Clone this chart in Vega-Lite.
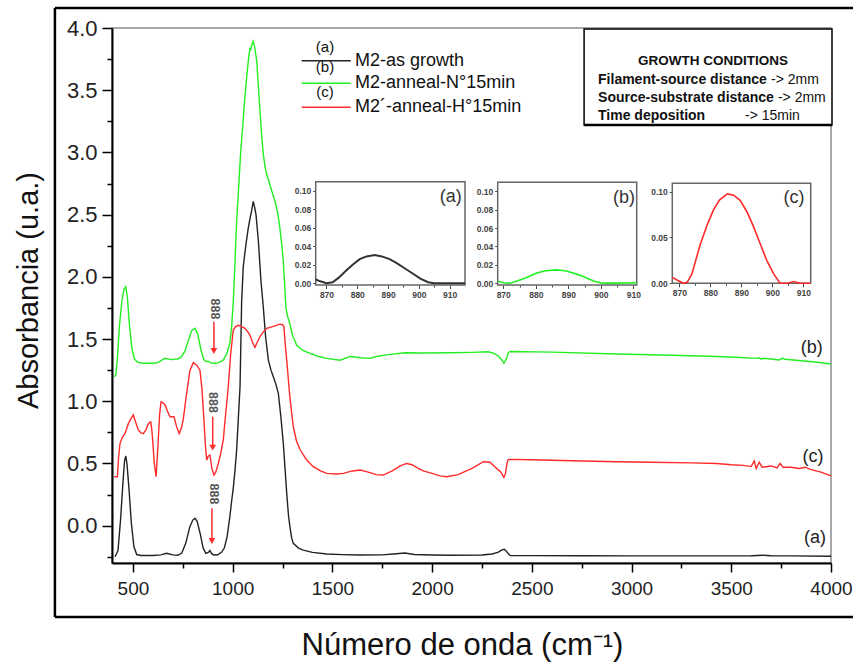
{
  "$schema": "https://vega.github.io/schema/vega-lite/v6.json",
  "width": 719,
  "height": 535,
  "autosize": {"type": "none"},
  "padding": {"left": 112, "top": 28, "right": 22, "bottom": 101},
  "background": "white",
  "config": {
    "view": {"stroke": "#8a8a8a", "strokeWidth": 1.5},
    "axis": {"grid": false},
    "font": "Liberation Sans",
    "text": {"font": "Liberation Sans"}
  },
  "datasets": {
    "spectra": [
      {"s":"a","wn":410,"abs":-0.25},{"s":"a","wn":425,"abs":-0.2},{"s":"a","wn":438,"abs":0.05},{"s":"a","wn":450,"abs":0.35},{"s":"a","wn":458,"abs":0.52},{"s":"a","wn":464,"abs":0.56},{"s":"a","wn":470,"abs":0.5},{"s":"a","wn":480,"abs":0.3},{"s":"a","wn":492,"abs":0.02},{"s":"a","wn":505,"abs":-0.17},{"s":"a","wn":519,"abs":-0.232},{"s":"a","wn":540,"abs":-0.24},{"s":"a","wn":600,"abs":-0.24},{"s":"a","wn":640,"abs":-0.235},{"s":"a","wn":669,"abs":-0.222},{"s":"a","wn":700,"abs":-0.235},{"s":"a","wn":725,"abs":-0.238},{"s":"a","wn":745,"abs":-0.22},{"s":"a","wn":765,"abs":-0.14},{"s":"a","wn":785,"abs":-0.01},{"s":"a","wn":800,"abs":0.045},{"s":"a","wn":811,"abs":0.059},{"s":"a","wn":822,"abs":0.035},{"s":"a","wn":838,"abs":-0.07},{"s":"a","wn":852,"abs":-0.18},{"s":"a","wn":865,"abs":-0.223},{"s":"a","wn":878,"abs":-0.215},{"s":"a","wn":886,"abs":-0.2},{"s":"a","wn":895,"abs":-0.225},{"s":"a","wn":905,"abs":-0.236},{"s":"a","wn":925,"abs":-0.234},{"s":"a","wn":945,"abs":-0.212},{"s":"a","wn":958,"abs":-0.18},{"s":"a","wn":972,"abs":-0.09},{"s":"a","wn":985,"abs":0.06},{"s":"a","wn":995,"abs":0.2},{"s":"a","wn":1003,"abs":0.3},{"s":"a","wn":1012,"abs":0.45},{"s":"a","wn":1020,"abs":0.61},{"s":"a","wn":1028,"abs":0.85},{"s":"a","wn":1037,"abs":1.12},{"s":"a","wn":1045,"abs":1.8},{"s":"a","wn":1053,"abs":2.08},{"s":"a","wn":1062,"abs":2.2},{"s":"a","wn":1070,"abs":2.3},{"s":"a","wn":1078,"abs":2.39},{"s":"a","wn":1087,"abs":2.47},{"s":"a","wn":1095,"abs":2.53},{"s":"a","wn":1103,"abs":2.607},{"s":"a","wn":1110,"abs":2.56},{"s":"a","wn":1117,"abs":2.5},{"s":"a","wn":1129,"abs":2.286},{"s":"a","wn":1142,"abs":1.965},{"s":"a","wn":1154,"abs":1.75},{"s":"a","wn":1165,"abs":1.52},{"s":"a","wn":1179,"abs":1.33},{"s":"a","wn":1192,"abs":1.25},{"s":"a","wn":1204,"abs":1.197},{"s":"a","wn":1216,"abs":1.14},{"s":"a","wn":1229,"abs":1.064},{"s":"a","wn":1242,"abs":0.87},{"s":"a","wn":1254,"abs":0.66},{"s":"a","wn":1263,"abs":0.45},{"s":"a","wn":1271,"abs":0.26},{"s":"a","wn":1280,"abs":0.08},{"s":"a","wn":1287,"abs":-0.008},{"s":"a","wn":1296,"abs":-0.1},{"s":"a","wn":1304,"abs":-0.142},{"s":"a","wn":1330,"abs":-0.18},{"s":"a","wn":1354,"abs":-0.196},{"s":"a","wn":1400,"abs":-0.215},{"s":"a","wn":1472,"abs":-0.228},{"s":"a","wn":1550,"abs":-0.233},{"s":"a","wn":1638,"abs":-0.236},{"s":"a","wn":1750,"abs":-0.235},{"s":"a","wn":1820,"abs":-0.226},{"s":"a","wn":1864,"abs":-0.22},{"s":"a","wn":1910,"abs":-0.232},{"s":"a","wn":2000,"abs":-0.236},{"s":"a","wn":2100,"abs":-0.238},{"s":"a","wn":2250,"abs":-0.236},{"s":"a","wn":2300,"abs":-0.228},{"s":"a","wn":2330,"abs":-0.215},{"s":"a","wn":2350,"abs":-0.195},{"s":"a","wn":2362,"abs":-0.19},{"s":"a","wn":2372,"abs":-0.205},{"s":"a","wn":2382,"abs":-0.225},{"s":"a","wn":2392,"abs":-0.24},{"s":"a","wn":2500,"abs":-0.241},{"s":"a","wn":2750,"abs":-0.242},{"s":"a","wn":3000,"abs":-0.243},{"s":"a","wn":3300,"abs":-0.243},{"s":"a","wn":3600,"abs":-0.242},{"s":"a","wn":3660,"abs":-0.238},{"s":"a","wn":3700,"abs":-0.242},{"s":"a","wn":3800,"abs":-0.243},{"s":"a","wn":4000,"abs":-0.246},

      {"s":"b","wn":406,"abs":1.197},{"s":"b","wn":414,"abs":1.21},{"s":"b","wn":422,"abs":1.35},{"s":"b","wn":432,"abs":1.6},{"s":"b","wn":444,"abs":1.8},{"s":"b","wn":455,"abs":1.9},{"s":"b","wn":464,"abs":1.92},{"s":"b","wn":472,"abs":1.84},{"s":"b","wn":482,"abs":1.62},{"s":"b","wn":495,"abs":1.42},{"s":"b","wn":508,"abs":1.34},{"s":"b","wn":522,"abs":1.315},{"s":"b","wn":550,"abs":1.305},{"s":"b","wn":600,"abs":1.305},{"s":"b","wn":625,"abs":1.31},{"s":"b","wn":645,"abs":1.33},{"s":"b","wn":661,"abs":1.345},{"s":"b","wn":690,"abs":1.335},{"s":"b","wn":720,"abs":1.34},{"s":"b","wn":740,"abs":1.35},{"s":"b","wn":760,"abs":1.4},{"s":"b","wn":778,"abs":1.49},{"s":"b","wn":795,"abs":1.57},{"s":"b","wn":811,"abs":1.586},{"s":"b","wn":825,"abs":1.54},{"s":"b","wn":840,"abs":1.42},{"s":"b","wn":855,"abs":1.335},{"s":"b","wn":868,"abs":1.318},{"s":"b","wn":878,"abs":1.322},{"s":"b","wn":886,"abs":1.312},{"s":"b","wn":900,"abs":1.305},{"s":"b","wn":915,"abs":1.305},{"s":"b","wn":935,"abs":1.315},{"s":"b","wn":953,"abs":1.33},{"s":"b","wn":970,"abs":1.38},{"s":"b","wn":985,"abs":1.46},{"s":"b","wn":995,"abs":1.6},{"s":"b","wn":1003,"abs":1.8},{"s":"b","wn":1012,"abs":2.13},{"s":"b","wn":1020,"abs":2.45},{"s":"b","wn":1028,"abs":2.66},{"s":"b","wn":1040,"abs":3.0},{"s":"b","wn":1050,"abs":3.2},{"s":"b","wn":1060,"abs":3.42},{"s":"b","wn":1070,"abs":3.6},{"s":"b","wn":1080,"abs":3.76},{"s":"b","wn":1087,"abs":3.84},{"s":"b","wn":1090,"abs":3.82},{"s":"b","wn":1095,"abs":3.86},{"s":"b","wn":1103,"abs":3.893},{"s":"b","wn":1110,"abs":3.85},{"s":"b","wn":1121,"abs":3.73},{"s":"b","wn":1130,"abs":3.5},{"s":"b","wn":1137,"abs":3.33},{"s":"b","wn":1146,"abs":3.12},{"s":"b","wn":1154,"abs":2.98},{"s":"b","wn":1163,"abs":2.88},{"s":"b","wn":1171,"abs":2.82},{"s":"b","wn":1185,"abs":2.75},{"s":"b","wn":1196,"abs":2.69},{"s":"b","wn":1210,"abs":2.62},{"s":"b","wn":1221,"abs":2.55},{"s":"b","wn":1230,"abs":2.47},{"s":"b","wn":1237,"abs":2.39},{"s":"b","wn":1246,"abs":2.26},{"s":"b","wn":1254,"abs":2.125},{"s":"b","wn":1262,"abs":1.9},{"s":"b","wn":1267,"abs":1.75},{"s":"b","wn":1276,"abs":1.68},{"s":"b","wn":1287,"abs":1.62},{"s":"b","wn":1300,"abs":1.53},{"s":"b","wn":1321,"abs":1.45},{"s":"b","wn":1350,"abs":1.41},{"s":"b","wn":1388,"abs":1.385},{"s":"b","wn":1430,"abs":1.36},{"s":"b","wn":1472,"abs":1.345},{"s":"b","wn":1538,"abs":1.33},{"s":"b","wn":1590,"abs":1.36},{"s":"b","wn":1640,"abs":1.35},{"s":"b","wn":1689,"abs":1.345},{"s":"b","wn":1720,"abs":1.36},{"s":"b","wn":1780,"abs":1.375},{"s":"b","wn":1864,"abs":1.39},{"s":"b","wn":1950,"abs":1.388},{"s":"b","wn":2090,"abs":1.39},{"s":"b","wn":2200,"abs":1.393},{"s":"b","wn":2282,"abs":1.398},{"s":"b","wn":2310,"abs":1.385},{"s":"b","wn":2335,"abs":1.36},{"s":"b","wn":2350,"abs":1.33},{"s":"b","wn":2360,"abs":1.305},{"s":"b","wn":2366,"abs":1.32},{"s":"b","wn":2374,"abs":1.345},{"s":"b","wn":2382,"abs":1.39},{"s":"b","wn":2391,"abs":1.4},{"s":"b","wn":2600,"abs":1.395},{"s":"b","wn":2926,"abs":1.38},{"s":"b","wn":3200,"abs":1.37},{"s":"b","wn":3427,"abs":1.36},{"s":"b","wn":3550,"abs":1.352},{"s":"b","wn":3620,"abs":1.345},{"s":"b","wn":3640,"abs":1.35},{"s":"b","wn":3650,"abs":1.338},{"s":"b","wn":3661,"abs":1.345},{"s":"b","wn":3700,"abs":1.34},{"s":"b","wn":3740,"abs":1.332},{"s":"b","wn":3755,"abs":1.345},{"s":"b","wn":3770,"abs":1.338},{"s":"b","wn":3850,"abs":1.325},{"s":"b","wn":3920,"abs":1.315},{"s":"b","wn":4000,"abs":1.3},

      {"s":"c","wn":406,"abs":0.393},{"s":"c","wn":422,"abs":0.393},{"s":"c","wn":428,"abs":0.55},{"s":"c","wn":435,"abs":0.66},{"s":"c","wn":447,"abs":0.71},{"s":"c","wn":460,"abs":0.74},{"s":"c","wn":477,"abs":0.82},{"s":"c","wn":490,"abs":0.86},{"s":"c","wn":502,"abs":0.89},{"s":"c","wn":512,"abs":0.84},{"s":"c","wn":527,"abs":0.77},{"s":"c","wn":540,"abs":0.745},{"s":"c","wn":552,"abs":0.74},{"s":"c","wn":565,"abs":0.77},{"s":"c","wn":577,"abs":0.82},{"s":"c","wn":589,"abs":0.835},{"s":"c","wn":594,"abs":0.78},{"s":"c","wn":599,"abs":0.69},{"s":"c","wn":607,"abs":0.5},{"s":"c","wn":616,"abs":0.393},{"s":"c","wn":622,"abs":0.55},{"s":"c","wn":627,"abs":0.69},{"s":"c","wn":634,"abs":0.9},{"s":"c","wn":641,"abs":0.996},{"s":"c","wn":650,"abs":0.99},{"s":"c","wn":661,"abs":0.97},{"s":"c","wn":673,"abs":0.92},{"s":"c","wn":686,"abs":0.876},{"s":"c","wn":706,"abs":0.876},{"s":"c","wn":718,"abs":0.8},{"s":"c","wn":732,"abs":0.74},{"s":"c","wn":742,"abs":0.78},{"s":"c","wn":752,"abs":0.85},{"s":"c","wn":768,"abs":1.05},{"s":"c","wn":786,"abs":1.25},{"s":"c","wn":803,"abs":1.31},{"s":"c","wn":820,"abs":1.29},{"s":"c","wn":836,"abs":1.25},{"s":"c","wn":846,"abs":1.1},{"s":"c","wn":856,"abs":0.85},{"s":"c","wn":863,"abs":0.65},{"s":"c","wn":870,"abs":0.527},{"s":"c","wn":878,"abs":0.56},{"s":"c","wn":886,"abs":0.567},{"s":"c","wn":896,"abs":0.46},{"s":"c","wn":906,"abs":0.407},{"s":"c","wn":915,"abs":0.43},{"s":"c","wn":928,"abs":0.5},{"s":"c","wn":940,"abs":0.58},{"s":"c","wn":953,"abs":0.69},{"s":"c","wn":965,"abs":0.9},{"s":"c","wn":978,"abs":1.117},{"s":"c","wn":990,"abs":1.38},{"s":"c","wn":1003,"abs":1.572},{"s":"c","wn":1015,"abs":1.6},{"s":"c","wn":1028,"abs":1.61},{"s":"c","wn":1045,"abs":1.6},{"s":"c","wn":1062,"abs":1.586},{"s":"c","wn":1075,"abs":1.56},{"s":"c","wn":1087,"abs":1.53},{"s":"c","wn":1100,"abs":1.47},{"s":"c","wn":1112,"abs":1.433},{"s":"c","wn":1122,"abs":1.47},{"s":"c","wn":1137,"abs":1.52},{"s":"c","wn":1155,"abs":1.56},{"s":"c","wn":1171,"abs":1.586},{"s":"c","wn":1200,"abs":1.6},{"s":"c","wn":1237,"abs":1.62},{"s":"c","wn":1250,"abs":1.615},{"s":"c","wn":1257,"abs":1.6},{"s":"c","wn":1264,"abs":1.45},{"s":"c","wn":1271,"abs":1.33},{"s":"c","wn":1287,"abs":1.03},{"s":"c","wn":1304,"abs":0.795},{"s":"c","wn":1320,"abs":0.68},{"s":"c","wn":1338,"abs":0.61},{"s":"c","wn":1370,"abs":0.53},{"s":"c","wn":1404,"abs":0.474},{"s":"c","wn":1440,"abs":0.44},{"s":"c","wn":1472,"abs":0.42},{"s":"c","wn":1520,"abs":0.415},{"s":"c","wn":1555,"abs":0.42},{"s":"c","wn":1600,"abs":0.44},{"s":"c","wn":1640,"abs":0.447},{"s":"c","wn":1680,"abs":0.43},{"s":"c","wn":1720,"abs":0.41},{"s":"c","wn":1755,"abs":0.407},{"s":"c","wn":1800,"abs":0.44},{"s":"c","wn":1840,"abs":0.48},{"s":"c","wn":1872,"abs":0.5},{"s":"c","wn":1900,"abs":0.49},{"s":"c","wn":1930,"abs":0.46},{"s":"c","wn":1956,"abs":0.44},{"s":"c","wn":2000,"abs":0.42},{"s":"c","wn":2040,"abs":0.4},{"s":"c","wn":2073,"abs":0.393},{"s":"c","wn":2130,"abs":0.41},{"s":"c","wn":2200,"abs":0.46},{"s":"c","wn":2257,"abs":0.514},{"s":"c","wn":2290,"abs":0.51},{"s":"c","wn":2324,"abs":0.46},{"s":"c","wn":2345,"abs":0.43},{"s":"c","wn":2360,"abs":0.388},{"s":"c","wn":2368,"abs":0.42},{"s":"c","wn":2375,"abs":0.5},{"s":"c","wn":2382,"abs":0.533},{"s":"c","wn":2500,"abs":0.53},{"s":"c","wn":2700,"abs":0.522},{"s":"c","wn":2926,"abs":0.514},{"s":"c","wn":3100,"abs":0.51},{"s":"c","wn":3300,"abs":0.505},{"s":"c","wn":3427,"abs":0.5},{"s":"c","wn":3500,"abs":0.49},{"s":"c","wn":3560,"abs":0.485},{"s":"c","wn":3600,"abs":0.475},{"s":"c","wn":3615,"abs":0.52},{"s":"c","wn":3625,"abs":0.46},{"s":"c","wn":3640,"abs":0.51},{"s":"c","wn":3655,"abs":0.47},{"s":"c","wn":3700,"abs":0.48},{"s":"c","wn":3730,"abs":0.465},{"s":"c","wn":3745,"abs":0.5},{"s":"c","wn":3760,"abs":0.47},{"s":"c","wn":3800,"abs":0.47},{"s":"c","wn":3840,"abs":0.46},{"s":"c","wn":3870,"abs":0.47},{"s":"c","wn":3900,"abs":0.45},{"s":"c","wn":3950,"abs":0.43},{"s":"c","wn":4000,"abs":0.4}
    ],
    "insetA": [
      {"wn":866.5,"abs":0.004},{"wn":868,"abs":0.002},{"wn":870,"abs":0.0},{"wn":872,"abs":0.001},{"wn":874,"abs":0.006},{"wn":876.5,"abs":0.014},{"wn":878.5,"abs":0.02},{"wn":880.8,"abs":0.026},{"wn":883,"abs":0.029},{"wn":885.7,"abs":0.0305},{"wn":888,"abs":0.029},{"wn":890.5,"abs":0.026},{"wn":892.7,"abs":0.022},{"wn":895,"abs":0.017},{"wn":898,"abs":0.0105},{"wn":900.5,"abs":0.005},{"wn":903,"abs":0.001},{"wn":905,"abs":0.0},{"wn":910,"abs":0.0},{"wn":915,"abs":0.0}
    ],
    "insetB": [
      {"wn":868.3,"abs":0.002},{"wn":870,"abs":0.0005},{"wn":872,"abs":0.0},{"wn":874,"abs":0.002},{"wn":877,"abs":0.006},{"wn":880.3,"abs":0.011},{"wn":883,"abs":0.0135},{"wn":886.4,"abs":0.0145},{"wn":889,"abs":0.0135},{"wn":891.5,"abs":0.011},{"wn":893.6,"abs":0.0085},{"wn":896,"abs":0.005},{"wn":898,"abs":0.002},{"wn":900,"abs":0.0003},{"wn":902,"abs":0.0},{"wn":905,"abs":0.0},{"wn":911,"abs":0.0005}
    ],
    "insetC": [
      {"wn":867.7,"abs":0.0065},{"wn":869.5,"abs":0.003},{"wn":871.3,"abs":0.0},{"wn":872.5,"abs":0.001},{"wn":874,"abs":0.01},{"wn":876.7,"abs":0.042},{"wn":879,"abs":0.064},{"wn":881,"abs":0.08},{"wn":883,"abs":0.091},{"wn":885.5,"abs":0.0975},{"wn":887.5,"abs":0.096},{"wn":889.6,"abs":0.0905},{"wn":891.8,"abs":0.078},{"wn":893.9,"abs":0.062},{"wn":896,"abs":0.044},{"wn":898.2,"abs":0.025},{"wn":900.5,"abs":0.01},{"wn":902.5,"abs":0.0},{"wn":905,"abs":0.0},{"wn":907,"abs":0.002},{"wn":909,"abs":0.0},{"wn":912.4,"abs":0.0}
    ]
  },
  "layer": [
    {
      "encoding": {
        "x": {"field": "wn", "type": "quantitative",
          "scale": {"domain": [395, 4000], "nice": false, "zero": false},
          "axis": {
            "title": "Número de onda (cm⁻¹)",
            "values": [500,750,1000,1250,1500,1750,2000,2250,2500,2750,3000,3250,3500,3750,4000],
            "format": "d",
            "labelExpr": "datum.value % 500 === 0 ? datum.label : ''",
            "tickSize": {"condition": {"test": "datum.value % 500 !== 0", "value": 5}, "value": 9},
            "tickColor": "#000", "tickWidth": 1.5,
            "domainColor": "#000", "domainWidth": 2,
            "labelFontSize": 19, "labelColor": "#222", "labelPadding": 7,
            "labelFlush": false, "labelOverlap": false,
            "titleFontSize": 31, "titleFontWeight": "normal", "titleColor": "#111",
            "titleX": 350, "titleY": 82, "titleBaseline": "middle", "titleAlign": "center"
          }},
        "y": {"field": "abs", "type": "quantitative",
          "scale": {"domain": [-0.3, 4.0], "nice": false, "zero": false},
          "axis": {
            "title": "Absorbancia  (u.a.)",
            "values": [-0.25,0,0.25,0.5,0.75,1,1.25,1.5,1.75,2,2.25,2.5,2.75,3,3.25,3.5,3.75,4],
            "format": ".1f",
            "labelExpr": "abs(round(datum.value*4)) % 2 === 0 ? datum.label : ''",
            "tickSize": {"condition": {"test": "abs(round(datum.value*4)) % 2 === 1", "value": 5}, "value": 10},
            "tickColor": "#000", "tickWidth": 1.5,
            "domainColor": "#000", "domainWidth": 2,
            "labelFontSize": 22, "labelColor": "#222", "labelPadding": 5,
            "labelOverlap": false,
            "titleFontSize": 29, "titleFontWeight": "normal", "titleColor": "#111",
            "titleX": -84, "titleY": 262, "titleAngle": -90, "titleBaseline": "middle", "titleAlign": "center"
          }}
      },
      "layer": [
        {
          "data": {"name": "spectra"},
          "mark": {"type": "line", "strokeWidth": 1.4},
          "encoding": {
            "color": {"field": "s", "type": "nominal", "scale": {"domain": ["a","b","c"], "range": ["#222222","#22ee22","#ff2a2a"]}, "legend": null},
            "detail": {"field": "s"}
          }
        },
        {
          "data": {"values": [
            {"wn":108.8,"wn2":108.8,"abs":-0.734,"abs2":4.161},
            {"wn":108.8,"wn2":4400,"abs":4.161,"abs2":4.161},
            {"wn":108.8,"wn2":4400,"abs":-0.734,"abs2":-0.734}
          ]},
          "mark": {"type": "rule", "color": "#000", "strokeWidth": 2.5},
          "encoding": {"x2": {"field": "wn2"}, "y2": {"field": "abs2"}}
        },
        {
          "data": {"values": [
            {"s":"a","wn":1346,"wn2":1592,"abs":3.737},
            {"s":"b","wn":1346,"wn2":1592,"abs":3.556},
            {"s":"c","wn":1346,"wn2":1592,"abs":3.363}
          ]},
          "mark": {"type": "rule", "strokeWidth": 1.6},
          "encoding": {
            "x2": {"field": "wn2"},
            "color": {"field": "s", "type": "nominal", "legend": null}
          }
        },
        {
          "data": {"values": [
            {"t":"M2-as growth","wn":1613,"abs":3.737},
            {"t":"M2-anneal-N°15min","wn":1613,"abs":3.556},
            {"t":"M2´-anneal-H°15min","wn":1613,"abs":3.363}
          ]},
          "mark": {"type": "text", "align": "left", "baseline": "middle", "fontSize": 18, "color": "#111"},
          "encoding": {"text": {"field": "t"}}
        },
        {
          "data": {"values": [
            {"t":"(a)","wn":1463,"abs":3.851},
            {"t":"(b)","wn":1463,"abs":3.69},
            {"t":"(c)","wn":1463,"abs":3.484}
          ]},
          "mark": {"type": "text", "align": "center", "baseline": "middle", "fontSize": 15, "color": "#111"},
          "encoding": {"text": {"field": "t"}}
        },
        {
          "data": {"values": [
            {"t":"(b)","wn":3903,"abs":1.426},
            {"t":"(c)","wn":3910,"abs":0.554},
            {"t":"(a)","wn":3920,"abs":-0.101}
          ]},
          "mark": {"type": "text", "align": "center", "baseline": "middle", "fontSize": 18, "color": "#222"},
          "encoding": {"text": {"field": "t"}}
        },
        {
          "data": {"values": [
            {"wn":906,"abs":1.64,"abs2":1.404},
            {"wn":900,"abs":0.876,"abs2":0.627},
            {"wn":896,"abs":0.14,"abs2":-0.123}
          ]},
          "mark": {"type": "rule", "color": "#ff2a2a", "strokeWidth": 1.5},
          "encoding": {"y2": {"field": "abs2"}}
        },
        {
          "data": {"values": [
            {"wn":906,"abs":1.404},
            {"wn":900,"abs":0.627},
            {"wn":896,"abs":-0.123}
          ]},
          "mark": {"type": "point", "shape": "triangle-down", "filled": true, "color": "#ff2a2a", "size": 45, "opacity": 1}
        },
        {
          "data": {"values": [
            {"t":"888","wn":911,"abs":1.742},
            {"t":"888","wn":900,"abs":0.99},
            {"t":"888","wn":906,"abs":0.255}
          ]},
          "mark": {"type": "text", "angle": 90, "align": "center", "baseline": "middle", "fontSize": 12.5, "fontWeight": "bold", "color": "#555"},
          "encoding": {"text": {"field": "t"}}
        },
        {
          "data": {"values": [{"wn":2762,"wn2":4005,"abs":3.992,"abs2":3.22}]},
          "mark": {"type": "rect", "fill": "white", "stroke": "#000", "strokeWidth": 1.5},
          "encoding": {"x2": {"field": "wn2"}, "y2": {"field": "abs2"}}
        },
        {
          "data": {"values": [{"wn":2762,"wn2":4005,"abs":3.22}]},
          "mark": {"type": "rule", "color": "#000", "strokeWidth": 2.5},
          "encoding": {"x2": {"field": "wn2"}}
        },
        {
          "data": {"values": [{"t":"GROWTH CONDITIONS","wn":3408,"abs":3.735}]},
          "mark": {"type": "text", "align": "center", "baseline": "middle", "fontSize": 13.5, "fontWeight": "bold", "color": "#111"},
          "encoding": {"text": {"field": "t"}}
        },
        {
          "data": {"values": [
            {"t":"Filament-source distance","wn":2832,"abs":3.582},
            {"t":"Source-substrate distance","wn":2832,"abs":3.437},
            {"t":"Time deposition","wn":2832,"abs":3.293}
          ]},
          "mark": {"type": "text", "align": "left", "baseline": "middle", "fontSize": 14, "fontWeight": "bold", "color": "#111"},
          "encoding": {"text": {"field": "t"}}
        },
        {
          "data": {"values": [
            {"t":"-> 2mm","wn":3699,"abs":3.582},
            {"t":"-> 2mm","wn":3734,"abs":3.437},
            {"t":"-> 15min","wn":3569,"abs":3.293}
          ]},
          "mark": {"type": "text", "align": "left", "baseline": "middle", "fontSize": 14, "color": "#111"},
          "encoding": {"text": {"field": "t"}}
        }
      ]
    },
    {
      "encoding": {
        "x": {"field": "wn", "type": "quantitative",
          "scale": {"domain": [866.5, 915], "range": [203.7, 353], "nice": false, "zero": false},
          "axis": {"orient": "bottom", "offset": -278, "title": null, "domain": false,
            "values": [870,875,880,885,890,895,900,905,910], "format": "d",
            "labelExpr": "datum.value % 10 === 0 ? datum.label : ''",
            "tickSize": {"condition": {"test": "datum.value % 10 !== 0", "value": 2}, "value": 3.5},
            "tickColor": "#444", "labelFontSize": 8.5, "labelFontWeight": "bold", "labelColor": "#444", "labelPadding": 2,
            "labelFlush": false, "labelOverlap": false}},
        "y": {"field": "abs", "type": "quantitative",
          "scale": {"domain": [-0.002, 0.11], "range": [257, 153.7], "nice": false, "zero": false},
          "axis": {"orient": "left", "offset": -203.7, "title": null, "domain": false,
            "values": [0,0.02,0.04,0.06,0.08,0.1], "format": ".2f", "tickSize": 3,
            "tickColor": "#444", "labelFontSize": 8.5, "labelFontWeight": "bold", "labelColor": "#444", "labelPadding": 2,
            "labelOverlap": false}}
      },
      "layer": [
        {
          "data": {"values": [{"wn":866.5,"wn2":915,"abs":-0.002,"abs2":0.11}]},
          "mark": {"type": "rect", "fill": "white", "stroke": "#666", "strokeWidth": 1.5},
          "encoding": {"x2": {"field": "wn2"}, "y2": {"field": "abs2"}}
        },
        {
          "data": {"name": "insetA"},
          "mark": {"type": "line", "color": "#333", "strokeWidth": 2}
        },
        {
          "data": {"values": [{"t":"(a)","wn":910.4,"abs":0.093}]},
          "mark": {"type": "text", "align": "center", "baseline": "middle", "fontSize": 18, "color": "#333"},
          "encoding": {"text": {"field": "t"}}
        }
      ]
    },
    {
      "encoding": {
        "x": {"field": "wn", "type": "quantitative",
          "scale": {"domain": [868.3, 911], "range": [385.7, 524.7], "nice": false, "zero": false},
          "axis": {"orient": "bottom", "offset": -278, "title": null, "domain": false,
            "values": [870,875,880,885,890,895,900,905,910], "format": "d",
            "labelExpr": "datum.value % 10 === 0 ? datum.label : ''",
            "tickSize": {"condition": {"test": "datum.value % 10 !== 0", "value": 2}, "value": 3.5},
            "tickColor": "#444", "labelFontSize": 8.5, "labelFontWeight": "bold", "labelColor": "#444", "labelPadding": 2,
            "labelFlush": false, "labelOverlap": false}},
        "y": {"field": "abs", "type": "quantitative",
          "scale": {"domain": [-0.002, 0.11], "range": [257, 154.3], "nice": false, "zero": false},
          "axis": {"orient": "left", "offset": -385.7, "title": null, "domain": false,
            "values": [0,0.02,0.04,0.06,0.08,0.1], "format": ".2f", "tickSize": 3,
            "tickColor": "#444", "labelFontSize": 8.5, "labelFontWeight": "bold", "labelColor": "#444", "labelPadding": 2,
            "labelOverlap": false}}
      },
      "layer": [
        {
          "data": {"values": [{"wn":868.3,"wn2":911,"abs":-0.002,"abs2":0.11}]},
          "mark": {"type": "rect", "fill": "white", "stroke": "#666", "strokeWidth": 1.5},
          "encoding": {"x2": {"field": "wn2"}, "y2": {"field": "abs2"}}
        },
        {
          "data": {"name": "insetB"},
          "mark": {"type": "line", "color": "#22ee22", "strokeWidth": 1.6}
        },
        {
          "data": {"values": [{"t":"(b)","wn":907.1,"abs":0.093}]},
          "mark": {"type": "text", "align": "center", "baseline": "middle", "fontSize": 18, "color": "#333"},
          "encoding": {"text": {"field": "t"}}
        }
      ]
    },
    {
      "encoding": {
        "x": {"field": "wn", "type": "quantitative",
          "scale": {"domain": [867.7, 912.4], "range": [560.3, 698.7], "nice": false, "zero": false},
          "axis": {"orient": "bottom", "offset": -279.7, "title": null, "domain": false,
            "values": [870,875,880,885,890,895,900,905,910], "format": "d",
            "labelExpr": "datum.value % 10 === 0 ? datum.label : ''",
            "tickSize": {"condition": {"test": "datum.value % 10 !== 0", "value": 2}, "value": 3.5},
            "tickColor": "#444", "labelFontSize": 8.5, "labelFontWeight": "bold", "labelColor": "#444", "labelPadding": 2,
            "labelFlush": false, "labelOverlap": false}},
        "y": {"field": "abs", "type": "quantitative",
          "scale": {"domain": [0, 0.109], "range": [255.3, 155.3], "nice": false, "zero": false},
          "axis": {"orient": "left", "offset": -560.3, "title": null, "domain": false,
            "values": [0,0.05,0.1], "format": ".2f", "tickSize": 3,
            "tickColor": "#444", "labelFontSize": 8.5, "labelFontWeight": "bold", "labelColor": "#444", "labelPadding": 2,
            "labelOverlap": false}}
      },
      "layer": [
        {
          "data": {"values": [{"wn":867.7,"wn2":912.4,"abs":0,"abs2":0.109}]},
          "mark": {"type": "rect", "fill": "white", "stroke": "#666", "strokeWidth": 1.5},
          "encoding": {"x2": {"field": "wn2"}, "y2": {"field": "abs2"}}
        },
        {
          "data": {"name": "insetC"},
          "mark": {"type": "line", "color": "#ff2a2a", "strokeWidth": 1.6}
        },
        {
          "data": {"values": [{"t":"(c)","wn":907,"abs":0.0927}]},
          "mark": {"type": "text", "align": "center", "baseline": "middle", "fontSize": 18, "color": "#333"},
          "encoding": {"text": {"field": "t"}}
        }
      ]
    }
  ],
  "resolve": {"scale": {"x": "independent", "y": "independent"}}
}
